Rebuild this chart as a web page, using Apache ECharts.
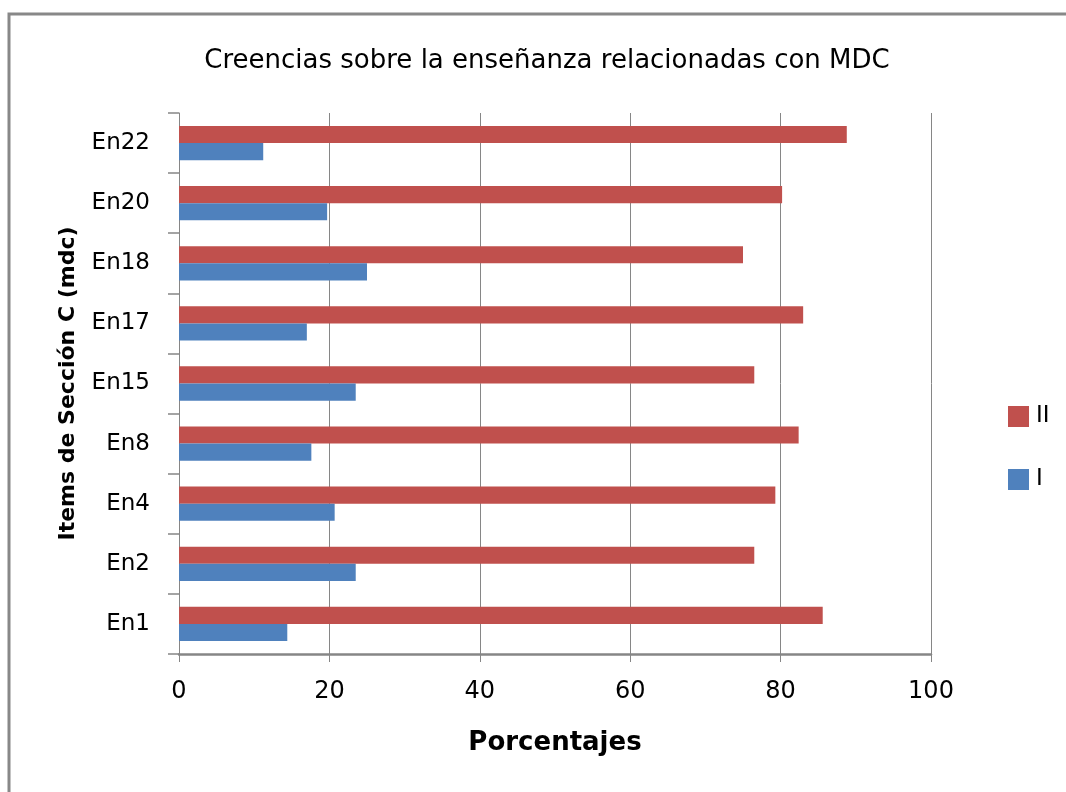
<!DOCTYPE html>
<html>
<head>
<meta charset="utf-8">
<script src="https://cdn.jsdelivr.net/npm/echarts@6/dist/echarts.min.js"></script>
<style>
  html, body { margin: 0; padding: 0; background: #fff; }
  #chart { width: 1066px; height: 792px; }
</style>
</head>
<body>
<div id="chart"></div>
<script>
// Items of section C, bottom to top
const categories = ['En1', 'En2', 'En4', 'En8', 'En15', 'En17', 'En18', 'En20', 'En22'];
// Percentages per group
const seriesI  = [14.4, 23.5, 20.7, 17.6, 23.5, 17.0, 25.0, 19.7, 11.2];
const seriesII = [85.6, 76.5, 79.3, 82.4, 76.5, 83.0, 75.0, 80.2, 88.8];
const xTicks = [0, 20, 40, 60, 80, 100];

const FONT = 'DejaVu Sans';
const GRID_COLOR = '#868686';

const chart = echarts.init(document.getElementById('chart'));
chart.setOption({
  backgroundColor: '#fff',
  animation: false,
  textStyle: { fontFamily: FONT },
  title: {
    text: 'Creencias sobre la enseñanza relacionadas con MDC',
    left: 542, textAlign: 'center',
    top: 43,
    textStyle: { fontFamily: FONT, fontSize: 26, fontWeight: 'normal', color: '#000' }
  },
  graphic: [{
    type: 'rect',
    shape: { x: 9, y: 14, width: 1200, height: 900 },
    style: { fill: 'none', stroke: '#888', lineWidth: 3 },
    silent: true
  }],
  legend: {
    data: ['II', 'I'],
    orient: 'vertical',
    left: 1003, top: 400,
    itemWidth: 21, itemHeight: 21, itemGap: 40,
    icon: 'rect',
    textStyle: { fontFamily: FONT, fontSize: 23, color: '#000', padding: [0, 0, 0, 2] }
  },
  grid: { left: 179, right: 135, top: 113, bottom: 138, containLabel: false },
  xAxis: {
    type: 'value',
    min: xTicks[0], max: xTicks[xTicks.length - 1], interval: 20,
    name: 'Porcentajes',
    nameLocation: 'middle', nameGap: 76,
    nameTextStyle: { fontFamily: FONT, fontSize: 26, fontWeight: 'bold', color: '#000' },
    axisLine: { show: true, lineStyle: { color: GRID_COLOR, width: 2.5 } },
    axisTick: { show: true, length: 8, lineStyle: { color: GRID_COLOR } },
    axisLabel: { margin: 26, fontFamily: FONT, fontSize: 24, color: '#000' },
    splitLine: { show: true, lineStyle: { color: GRID_COLOR, width: 1 } }
  },
  yAxis: {
    type: 'category',
    data: categories,
    name: 'Items de Sección C (mdc)',
    nameLocation: 'middle', nameGap: 100,
    nameTextStyle: { fontFamily: FONT, fontSize: 22, fontWeight: 'bold', color: '#000' },
    axisLine: { show: true, lineStyle: { color: GRID_COLOR, width: 1 } },
    axisTick: { show: true, length: 11, lineStyle: { color: GRID_COLOR, width: 1.5 } },
    axisLabel: { margin: 29, fontFamily: FONT, fontSize: 23, color: '#000' },
    splitLine: { show: false }
  },
  series: [
    {
      name: 'II', type: 'bar', data: seriesII,
      itemStyle: { color: '#C0504D' },
      barGap: '0%', barCategoryGap: '43%'
    },
    {
      name: 'I', type: 'bar', data: seriesI,
      itemStyle: { color: '#4F81BD' },
      barGap: '0%', barCategoryGap: '43%'
    }
  ]
});
</script>
</body>
</html>
